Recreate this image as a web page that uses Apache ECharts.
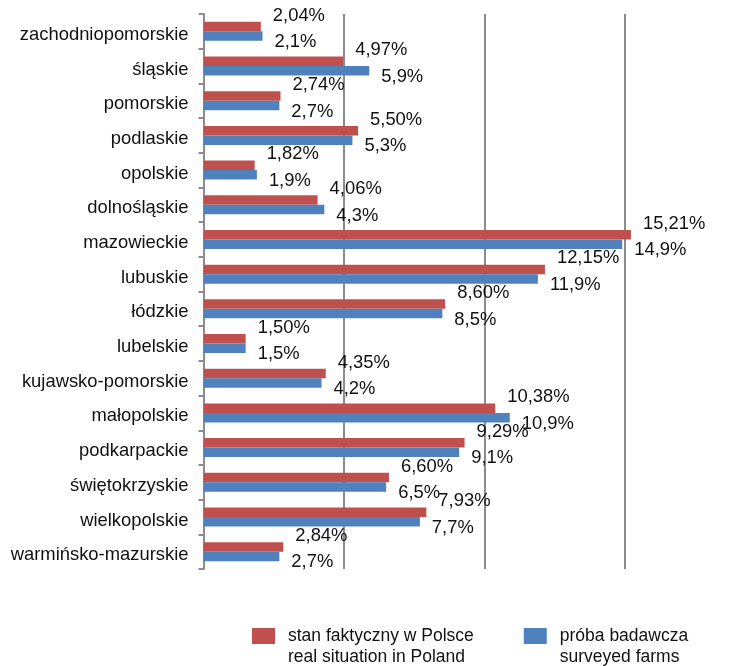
<!DOCTYPE html>
<html>
<head>
<meta charset="utf-8">
<script src="https://cdn.jsdelivr.net/npm/echarts@6/dist/echarts.min.js"></script>
<style>
html,body{margin:0;padding:0;background:#fff;}
#chart{width:753px;height:666px;}
</style>
</head>
<body>
<div id="chart"></div>
<script>
const categories = ['zachodniopomorskie','śląskie','pomorskie','podlaskie','opolskie','dolnośląskie','mazowieckie','lubuskie','łódzkie','lubelskie','kujawsko-pomorskie','małopolskie','podkarpackie','świętokrzyskie','wielkopolskie','warmińsko-mazurskie'];
const realValues = [2.04, 4.97, 2.74, 5.50, 1.82, 4.06, 15.21, 12.15, 8.60, 1.50, 4.35, 10.38, 9.29, 6.60, 7.93, 2.84];
const surveyValues = [2.1, 5.9, 2.7, 5.3, 1.9, 4.3, 14.9, 11.9, 8.5, 1.5, 4.2, 10.9, 9.1, 6.5, 7.7, 2.7];
const seriesNames = ['stan faktyczny w Polsce\nreal situation in Poland', 'próba badawcza\nsurveyed farms'];

const FONT = 'Liberation Sans, Arial, sans-serif';
const chart = echarts.init(document.getElementById('chart'));
chart.setOption({
  animation: false,
  textStyle: {fontFamily: FONT},
  grid: {left: 203.5, top: 14, height: 555, width: 562, containLabel: false, outerBoundsMode: 'none'},
  xAxis: {
    type: 'value', min: 0, max: 20, interval: 5,
    axisLine: {show: false}, axisTick: {show: false}, axisLabel: {show: false},
    splitLine: {show: true, lineStyle: {color: '#8c8c8c', width: 2}}
  },
  yAxis: {
    type: 'category', data: categories, inverse: true,
    axisLine: {show: true, lineStyle: {color: '#8c8c8c', width: 2}},
    axisTick: {show: true, length: 5, interval: 0, lineStyle: {color: '#8c8c8c', width: 2}},
    axisLabel: {
      margin: 15, color: '#111', fontSize: 18.4, fontFamily: FONT,
      formatter: v => '{c|' + v + '}',
      rich: {c: {fontSize: 18.4, fontFamily: FONT, color: '#111', padding: [7, 0, 0, 0]}}
    }
  },
  legend: {
    left: 247, top: 620.5, itemWidth: 31, itemHeight: 37, itemGap: 50,
    icon: 'path://M0 0H23V16H0Z M30.99 36.99H31V37H30.99Z',
    textStyle: {fontSize: 17.5, fontFamily: FONT, color: '#111', lineHeight: 21},
    data: seriesNames
  },
  series: [
    {
      name: seriesNames[0], type: 'bar', data: realValues, barWidth: 9.5, barGap: '0%',
      itemStyle: {color: '#C0504D'},
      label: {show: true, position: 'right', distance: 12, offset: [0, -11], fontSize: 18.4, fontFamily: FONT, color: '#111',
        formatter: p => p.value.toFixed(2).replace('.', ',') + '%'}
    },
    {
      name: seriesNames[1], type: 'bar', data: surveyValues, barWidth: 9.5, barGap: '0%',
      itemStyle: {color: '#4F81BD'},
      label: {show: true, position: 'right', distance: 12, offset: [0, 6], fontSize: 18.4, fontFamily: FONT, color: '#111',
        formatter: p => String(p.value).replace('.', ',') + '%'}
    }
  ]
});
</script>
</body>
</html>
